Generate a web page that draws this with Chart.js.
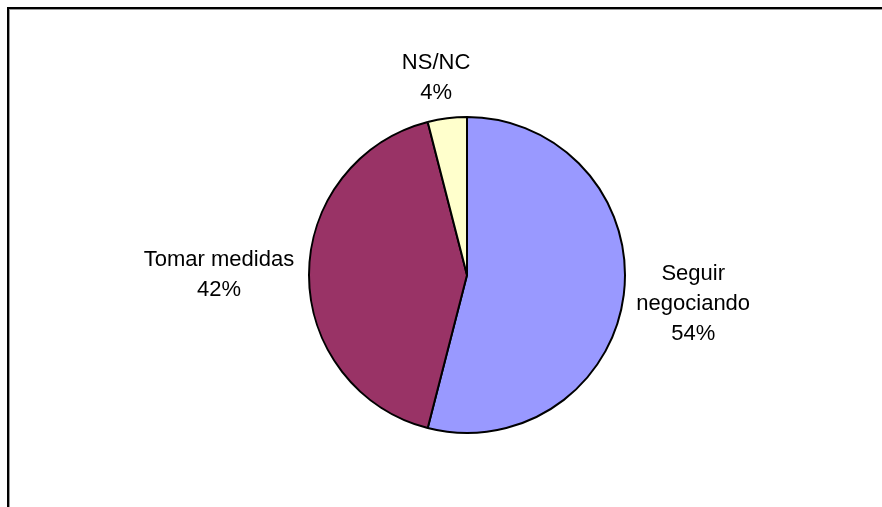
<!DOCTYPE html>
<html>
<head>
<meta charset="utf-8">
<script src="https://cdn.jsdelivr.net/npm/chart.js@4.4.0/dist/chart.umd.min.js"></script>
<style>
  html, body { margin: 0; padding: 0; background: #fff; }
  #wrap { position: relative; width: 882px; height: 507px; }
</style>
</head>
<body>
<div id="wrap"><canvas id="myChart" width="882" height="507"></canvas></div>
<script>
// Daten
const kategorien = ['Seguir negociando', 'Tomar medidas', 'NS/NC'];
const beschriftung = [['Seguir', 'negociando'], ['Tomar medidas'], ['NS/NC']];
const prozent = [54, 42, 4];
const farben = ['#9999FF', '#993366', '#FFFFCC'];

// Rahmen um die Grafik
const rahmenPlugin = {
  id: 'rahmen',
  beforeDraw(chart) {
    const c = chart.ctx;
    c.save();
    c.fillStyle = '#fff';
    c.fillRect(0, 0, chart.width, chart.height);
    c.strokeStyle = '#999';
    c.lineWidth = 1;
    c.strokeRect(9.5, 9.5, 1000, 1000);
    c.strokeStyle = '#000';
    c.lineWidth = 2;
    c.strokeRect(8, 8, 1000, 1000);
    c.restore();
  }
};

// Beschriftungen ausserhalb der Segmente
const labelPlugin = {
  id: 'sliceLabels',
  afterDatasetsDraw(chart, args, opts) {
    const c = chart.ctx;
    const meta = chart.getDatasetMeta(0);
    c.save();
    c.font = '22px "Liberation Sans", Arial, sans-serif';
    c.fillStyle = '#000';
    c.textAlign = 'center';
    c.textBaseline = 'middle';
    meta.data.forEach((arc, i) => {
      const mid = (arc.startAngle + arc.endAngle) / 2;
      const r = opts.abstand[i];
      const x = arc.x + Math.cos(mid) * r + opts.versatz[i];
      const y = arc.y + Math.sin(mid) * r;
      const zeilen = beschriftung[i].concat([prozent[i] + '%']);
      const lh = 30;
      const y0 = y - (zeilen.length - 1) * lh / 2;
      zeilen.forEach((z, k) => c.fillText(z, x, y0 + k * lh));
    });
    c.restore();
  }
};

const chart = new Chart(document.getElementById('myChart'), {
  type: 'pie',
  data: {
    labels: kategorien,
    datasets: [{
      data: prozent,
      backgroundColor: farben,
      borderColor: '#000',
      borderWidth: 2
    }]
  },
  options: {
    responsive: false,
    animation: false,
    layout: { padding: { left: 308, right: 256, top: 116, bottom: 73 } },
    plugins: {
      legend: { display: false },
      tooltip: { enabled: false },
      sliceLabels: { abstand: [227, 248, 199], versatz: [1, 0, -6] }
    }
  },
  plugins: [rahmenPlugin, labelPlugin]
});
</script>
</body>
</html>
